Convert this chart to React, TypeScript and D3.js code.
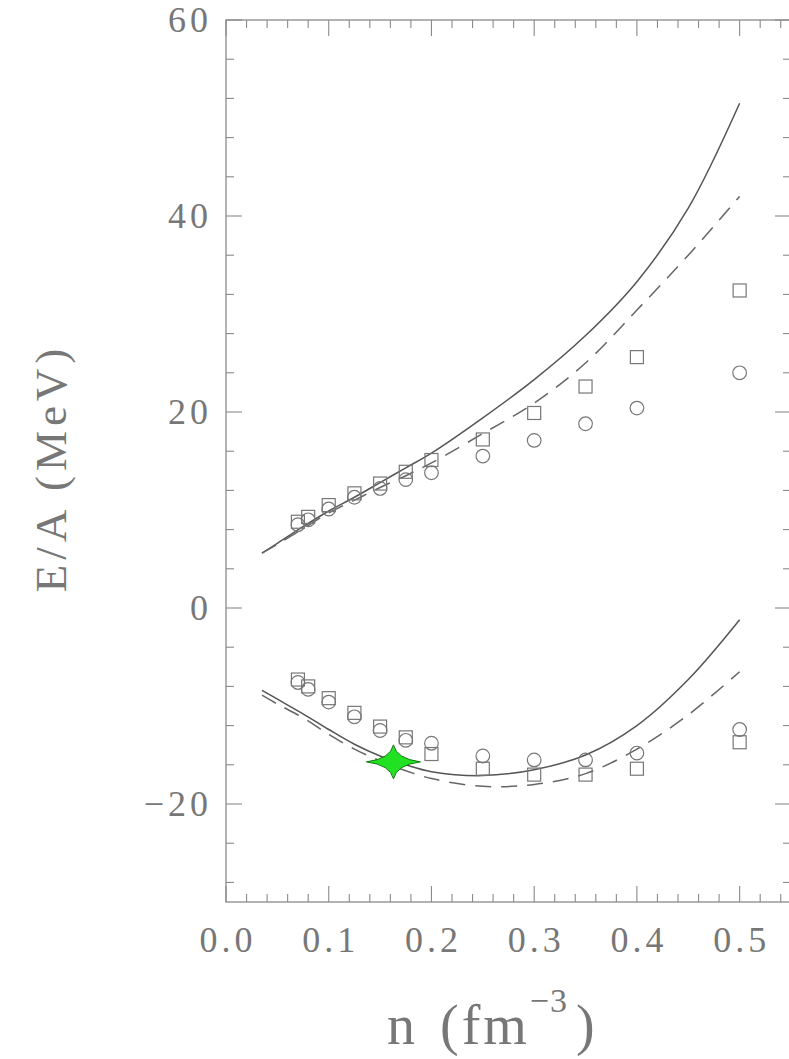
import React from 'react';
import * as d3 from 'd3';

// density points of the markers (fm^-3)
const markerN = [0.07, 0.08, 0.1, 0.125, 0.15, 0.175, 0.2, 0.25, 0.3, 0.35, 0.4, 0.5];
const upperSquares = [8.8, 9.3, 10.5, 11.7, 12.7, 13.9, 15.1, 17.2, 19.9, 22.6, 25.6, 32.4];
const upperCircles = [8.5, 9.0, 10.1, 11.3, 12.2, 13.1, 13.8, 15.5, 17.1, 18.8, 20.4, 24.0];
const lowerSquares = [-7.3, -8.0, -9.2, -10.7, -12.1, -13.2, -14.9, -16.4, -17.0, -17.0, -16.4, -13.7];
const lowerCircles = [-7.6, -8.3, -9.6, -11.1, -12.5, -13.5, -13.8, -15.1, -15.5, -15.5, -14.8, -12.4];

// curves
const curveN = [0.035, 0.05, 0.075, 0.1, 0.125, 0.15, 0.175, 0.2, 0.25, 0.3, 0.35, 0.4, 0.45, 0.5];
const upperSolid = [5.6, 6.6, 8.3, 9.9, 11.3, 12.8, 14.3, 15.8, 19.4, 23.3, 27.8, 33.3, 40.8, 51.5];
const upperDashed = [5.6, 6.5, 8.1, 9.7, 11.0, 12.3, 13.5, 14.8, 17.8, 20.9, 25.0, 30.4, 36.0, 42.0];
const lowerSolid = [-8.4, -9.3, -10.8, -12.4, -13.9, -15.1, -16.0, -16.7, -17.1, -16.5, -15.0, -12.0, -7.3, -1.2];
const lowerDashed = [-8.9, -9.8, -11.2, -12.9, -14.4, -15.6, -16.6, -17.4, -18.2, -18.0, -16.9, -14.4, -10.9, -6.5];

const star = { n: 0.163, e: -15.7 };

const xTicks = [0, 0.1, 0.2, 0.3, 0.4, 0.5];
const yTicks = [60, 40, 20, 0, -20];

const W = 789;
const H = 1059;
const left = 226;
const right = 791;
const top = 20;
const bottom = 902;
const axisColor = '#8a8a8a';
const textColor = '#777';
const font = '"Liberation Serif", "DejaVu Serif", serif';

export default function App() {
  const x = d3.scaleLinear().domain([0, 0.55]).range([left, right]);
  const y = d3.scaleLinear().domain([-30, 60]).range([bottom, top]);

  const line = d3
    .line<[number, number]>()
    .x((d) => x(d[0]))
    .y((d) => y(d[1]))
    .curve(d3.curveCatmullRom.alpha(0.5));

  const pts = (vals: number[]) => curveN.map((n, i) => [n, vals[i]] as [number, number]);

  const xMinor = d3.range(0, 0.5501, 0.02);
  const yMinor = d3.range(-28, 60.01, 4);

  const starPath = () => {
    const cx = x(star.n);
    const cy = y(star.e);
    const a = 27;
    const b = 17;
    const w = 3;
    return `M${cx - a},${cy} Q${cx - w},${cy - w} ${cx},${cy - b} Q${cx + w},${cy - w} ${cx + a},${cy} Q${cx + w},${cy + w} ${cx},${cy + b} Q${cx - w},${cy + w} ${cx - a},${cy} Z`;
  };

  return (
    <svg width={W} height={H} style={{ position: 'absolute', left: 0, top: 0, background: '#fff' }}>
      {/* frame */}
      <rect x={left} y={top} width={right - left} height={bottom - top} fill="none" stroke={axisColor} strokeWidth={1.3} />

      {/* x ticks */}
      {xMinor.map((t, i) => {
        const major = Math.abs(t * 10 - Math.round(t * 10)) < 1e-6;
        const len = major ? 16 : 8;
        return (
          <g key={'xt' + i} stroke={axisColor} strokeWidth={1.1}>
            <line x1={x(t)} x2={x(t)} y1={bottom} y2={bottom - len} />
            <line x1={x(t)} x2={x(t)} y1={top} y2={top + len} />
          </g>
        );
      })}
      {/* y ticks */}
      {yMinor.map((t, i) => {
        const major = t % 20 === 0;
        const len = major ? 16 : 8;
        return (
          <g key={'yt' + i} stroke={axisColor} strokeWidth={1.1}>
            <line x1={left} x2={left + len} y1={y(t)} y2={y(t)} />
            <line x1={right} x2={right - len} y1={y(t)} y2={y(t)} />
          </g>
        );
      })}

      {/* tick labels */}
      {xTicks.map((t) => (
        <text
          key={'xl' + t}
          x={x(t) + 2}
          y={952}
          textAnchor="middle"
          fontFamily={font}
          fontSize={36}
          letterSpacing={4}
          fill={textColor}
        >
          {t.toFixed(1)}
        </text>
      ))}
      {yTicks.map((t) => (
        <text
          key={'yl' + t}
          x={212}
          y={y(t) + 12}
          textAnchor="end"
          fontFamily={font}
          fontSize={36}
          letterSpacing={4}
          fill={textColor}
        >
          {t < 0 ? '\u2212' + Math.abs(t) : t}
        </text>
      ))}

      {/* axis titles */}
      <text
        transform={`translate(66,${468}) rotate(-90)`}
        textAnchor="middle"
        fontFamily={font}
        fontSize={45}
        letterSpacing={5}
        fill={textColor}
      >
        E/A (MeV)
      </text>
      <text x={387} y={1044} fontFamily={font} fill={textColor} fontSize={56} letterSpacing={3}>
        n
        <tspan dx={22}>(fm</tspan>
        <tspan dy={-32} fontSize={34} letterSpacing={1}>
          {'\u22123'}
        </tspan>
        <tspan dy={32} dx={8}>
          )
        </tspan>
      </text>

      {/* curves */}
      <path d={line(pts(upperSolid)) || ''} fill="none" stroke="#555" strokeWidth={1.5} />
      <path d={line(pts(upperDashed)) || ''} fill="none" stroke="#666" strokeWidth={1.5} strokeDasharray="16 10" />
      <path d={line(pts(lowerSolid)) || ''} fill="none" stroke="#555" strokeWidth={1.5} />
      <path d={line(pts(lowerDashed)) || ''} fill="none" stroke="#666" strokeWidth={1.5} strokeDasharray="16 10" />

      {/* markers */}
      {[upperSquares, lowerSquares].map((vals, k) =>
        markerN.map((n, i) => (
          <rect
            key={`s${k}-${i}`}
            x={x(n) - 6.5}
            y={y(vals[i]) - 6.5}
            width={13}
            height={13}
            fill="none"
            stroke="#777"
            strokeWidth={1.2}
          />
        ))
      )}
      {[upperCircles, lowerCircles].map((vals, k) =>
        markerN.map((n, i) => (
          <circle
            key={`c${k}-${i}`}
            cx={x(n)}
            cy={y(vals[i])}
            r={6.8}
            fill="none"
            stroke="#777"
            strokeWidth={1.2}
          />
        ))
      )}

      {/* saturation point */}
      <path d={starPath()} fill="#22e022" stroke="#0a7a0a" strokeWidth={1} />
    </svg>
  );
}
